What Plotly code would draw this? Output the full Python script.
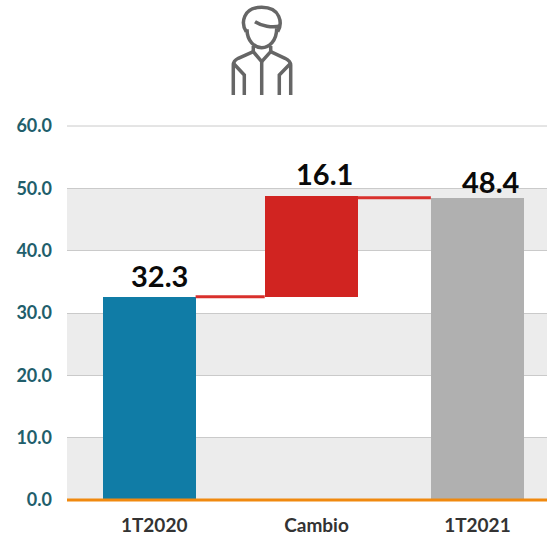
import plotly.graph_objects as go

categories = ["1T2020", "Cambio", "1T2021"]
positions = [0, 0.988, 2]
tick_positions = [0.031, 1.02, 2]
bases = [0, 32.6, 0]
values = [32.6, 16.1, 48.4]
labels = ["32.3", "16.1", "48.4"]
colors = ["#107CA6", "#D12421", "#B0B0B0"]
label_yshift = [2, 3, -3]
label_xshift = [10, 13, 14]
y_ticks = [0, 10, 20, 30, 40, 50, 60]
BAR_WIDTH = 0.567
FONT = "Lato"

fig = go.Figure()
fig.add_trace(go.Bar(x=positions, y=values, base=bases, width=BAR_WIDTH,
                     marker=dict(color=colors, line=dict(width=0)), showlegend=False))

# connectors between neighbouring bars
for i in range(len(categories) - 1):
    level = bases[i] + values[i]
    if i == 1:
        level = bases[2] + values[2] + 0.1
    fig.add_trace(go.Scatter(x=[positions[i] + BAR_WIDTH / 2, positions[i + 1] - BAR_WIDTH / 2],
                             y=[level, level], mode="lines",
                             line=dict(color="#D9302C", width=3),
                             showlegend=False, hoverinfo="skip"))

shapes = []
for lo, hi in zip(y_ticks[:-1], y_ticks[1:]):
    if lo % 20 == 0:
        shapes.append(dict(type="rect", xref="paper", yref="y", x0=0, x1=1, y0=lo, y1=hi,
                           fillcolor="#ECECEC", line_width=0, layer="below"))

# person icon, outlined with pixel-anchored paths
def icon_path(commands):
    out = []
    for cmd in commands:
        letter, pts = cmd[0], cmd[1:]
        coords = " ".join(f"{x / 3:.1f},{-y / 3:.1f}" for x, y in pts)
        out.append(f"{letter} {coords}")
    return " ".join(out)

icon_parts = [
    [("M", (139, 95)), ("C", (122, 70), (128, 22), (185, 22)), ("C", (242, 22), (248, 70), (233, 95))],
    [("M", (141, 88)), ("C", (141, 125), (165, 143), (185, 143)), ("C", (208, 143), (230, 122), (230, 85))],
    [("M", (165, 65)), ("C", (185, 78), (215, 84), (241, 78))],
    [("M", (160, 138)), ("L", (160, 155)), ("L", (185, 185)), ("L", (212, 155)), ("L", (212, 138))],
    [("M", (100, 285)), ("L", (100, 195)), ("C", (100, 185), (105, 180), (115, 175)), ("L", (160, 155))],
    [("M", (272, 285)), ("L", (272, 195)), ("C", (272, 185), (265, 180), (255, 175)), ("L", (212, 155))],
    [("M", (185, 185)), ("L", (185, 285))],
    [("M", (100, 190)), ("L", (133, 225)), ("L", (133, 285))],
    [("M", (272, 190)), ("L", (238, 225)), ("L", (238, 285))],
]
for part in icon_parts:
    shapes.append(dict(type="path", path=icon_path(part), xsizemode="pixel", ysizemode="pixel",
                       xref="paper", yref="paper", xanchor=(200 - 67) / 480, yanchor=500 / 374,
                       line=dict(color="#666666", width=3.5), layer="above"))

shapes.append(dict(type="line", xref="paper", yref="paper", x0=0, x1=1, y0=1, y1=1,
                   line=dict(color="#CACACA", width=1), layer="below"))
shapes.append(dict(type="line", xref="paper", yref="paper", x0=0, x1=1, y0=0, y1=0,
                   line=dict(color="#F0890F", width=3), layer="above"))

annotations = [
    dict(x=p, y=b + v, text=t, showarrow=False, yanchor="bottom", yshift=ys, xshift=xs,
         font=dict(family=FONT, size=29, color="#0A0A0A", weight=700))
    for p, b, v, t, ys, xs in zip(positions, bases, values, labels, label_yshift, label_xshift)
]

fig.update_layout(
    width=547, height=535, autosize=False,
    margin=dict(l=67, r=0, t=126, b=35),
    paper_bgcolor="white", plot_bgcolor="white",
    bargap=0, shapes=shapes, annotations=annotations,
    font=dict(family=FONT),
    xaxis=dict(range=[-0.5, 2.424], tickvals=tick_positions, ticktext=categories,
               showgrid=False, ticks="", zeroline=False, showline=False,
               ticklabelstandoff=12,
               tickfont=dict(family=FONT, size=19, color="#333333", weight=700)),
    yaxis=dict(range=[0, 60], tickvals=y_ticks, tickformat=".1f", showgrid=True,
               gridcolor="#CACACA", gridwidth=1, zeroline=False, showline=False, ticks="",
               ticklabelstandoff=14,
               tickfont=dict(family=FONT, size=18, color="#215E6B", weight=700)),
)
fig.write_html("out.html", config={"displayModeBar": False},
               post_script="document.body.style.margin='0';")
